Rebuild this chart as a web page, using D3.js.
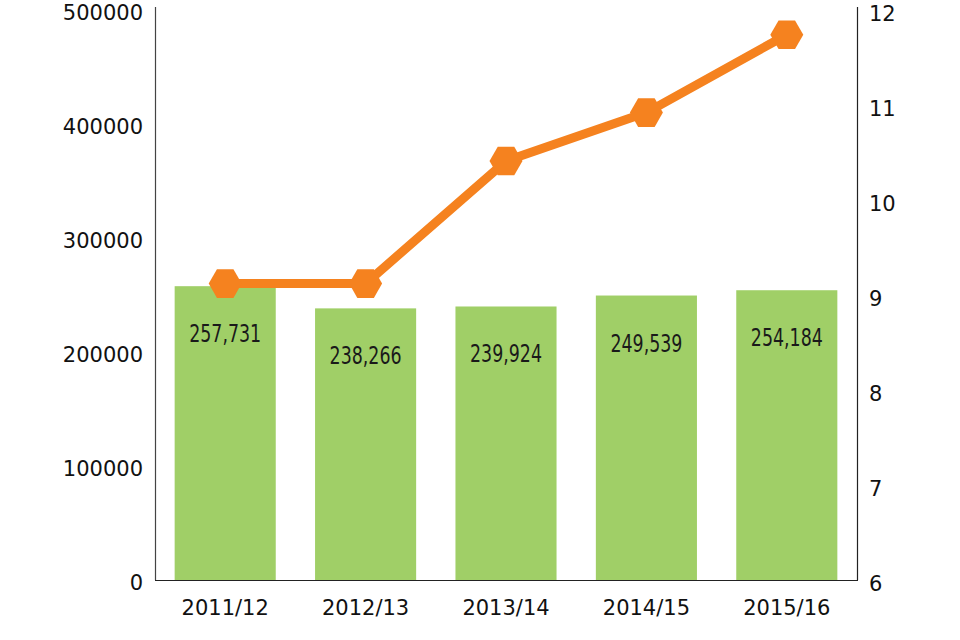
<!DOCTYPE html>
<html><head><meta charset="utf-8">
<script src="https://cdn.jsdelivr.net/npm/d3@7"></script>
<style>body{margin:0;background:#fff}svg{display:block}</style>
</head><body>
<svg id="c" width="960" height="640"></svg>
<script>
const categories = ["2011/12","2012/13","2013/14","2014/15","2015/16"];
const barValues = [257731, 238266, 239924, 249539, 254184];
const lineValues = [9.12, 9.12, 10.41, 10.92, 11.74];
const leftTicks = [0,100000,200000,300000,400000,500000];
const rightTicks = [6,7,8,9,10,11,12];

const svg = d3.select("#c");
const L = 155, R = 857, T = 10, B = 580;
const x = d3.scaleBand().domain(categories).range([L, R]).paddingInner(0.28).paddingOuter(0.14);
const yL = d3.scaleLinear().domain([0, 500000]).range([B, T]);
const yR = d3.scaleLinear().domain([6, 12]).range([B, T]);
const font = "DejaVu Sans";

// bars
svg.append("g").selectAll("rect").data(barValues).join("rect")
  .attr("x", (d,i) => x(categories[i]))
  .attr("width", x.bandwidth())
  .attr("y", d => yL(d))
  .attr("height", d => B - yL(d))
  .attr("fill", "#a0cf67");

// bar labels
svg.append("g").selectAll("text").data(barValues).join("text")
  .attr("x", (d,i) => x(categories[i]) + x.bandwidth()/2)
  .attr("y", d => yL(d) + 56)
  .attr("text-anchor", "middle")
  .attr("font-family", "'DejaVu Sans Condensed', 'DejaVu Sans', sans-serif")
  .attr("font-size", 25)
  .attr("textLength", 72)
  .attr("lengthAdjust", "spacingAndGlyphs")
  .attr("fill", "#1a1a1a")
  .text(d => d3.format(",")(d));

// axes lines
svg.append("line").attr("x1", L+0.5).attr("x2", L+0.5).attr("y1", 7).attr("y2", B).attr("stroke", "#444").attr("stroke-width", 1.2);
svg.append("line").attr("x1", R+0.5).attr("x2", R+0.5).attr("y1", 7).attr("y2", B).attr("stroke", "#222").attr("stroke-width", 1.2);
svg.append("line").attr("x1", L).attr("x2", R+1).attr("y1", B+0.5).attr("y2", B+0.5).attr("stroke", "#222").attr("stroke-width", 1.2);

// left axis labels
svg.append("g").selectAll("text").data(leftTicks).join("text")
  .attr("x", 143).attr("y", d => yL(d) + 10)
  .attr("text-anchor", "end")
  .attr("font-family", font).attr("font-size", 21).attr("fill", "#111")
  .text(d => d);

// right axis labels
svg.append("g").selectAll("text").data(rightTicks).join("text")
  .attr("x", 869).attr("y", d => yR(d) + 11)
  .attr("text-anchor", "start")
  .attr("font-family", font).attr("font-size", 21).attr("fill", "#111")
  .text(d => d);

// x labels
svg.append("g").selectAll("text").data(categories).join("text")
  .attr("x", d => x(d) + x.bandwidth()/2).attr("y", 615)
  .attr("text-anchor", "middle")
  .attr("font-family", font).attr("font-size", 21).attr("fill", "#111")
  .text(d => d);

// line
const line = d3.line().x((d,i) => x(categories[i]) + x.bandwidth()/2).y(d => yR(d));
svg.append("path").datum(lineValues).attr("d", line)
  .attr("fill", "none").attr("stroke", "#f5821f").attr("stroke-width", 9).attr("stroke-linejoin", "round");

// hexagon markers
const r = 16.5;
const hex = d3.range(6).map(k => [r*Math.cos(k*Math.PI/3), r*Math.sin(k*Math.PI/3)]);
svg.append("g").selectAll("path").data(lineValues).join("path")
  .attr("transform", (d,i) => `translate(${x(categories[i]) + x.bandwidth()/2},${yR(d)})`)
  .attr("d", "M" + hex.map(p => p.join(",")).join("L") + "Z")
  .attr("fill", "#f5821f");
</script>
</body></html>
